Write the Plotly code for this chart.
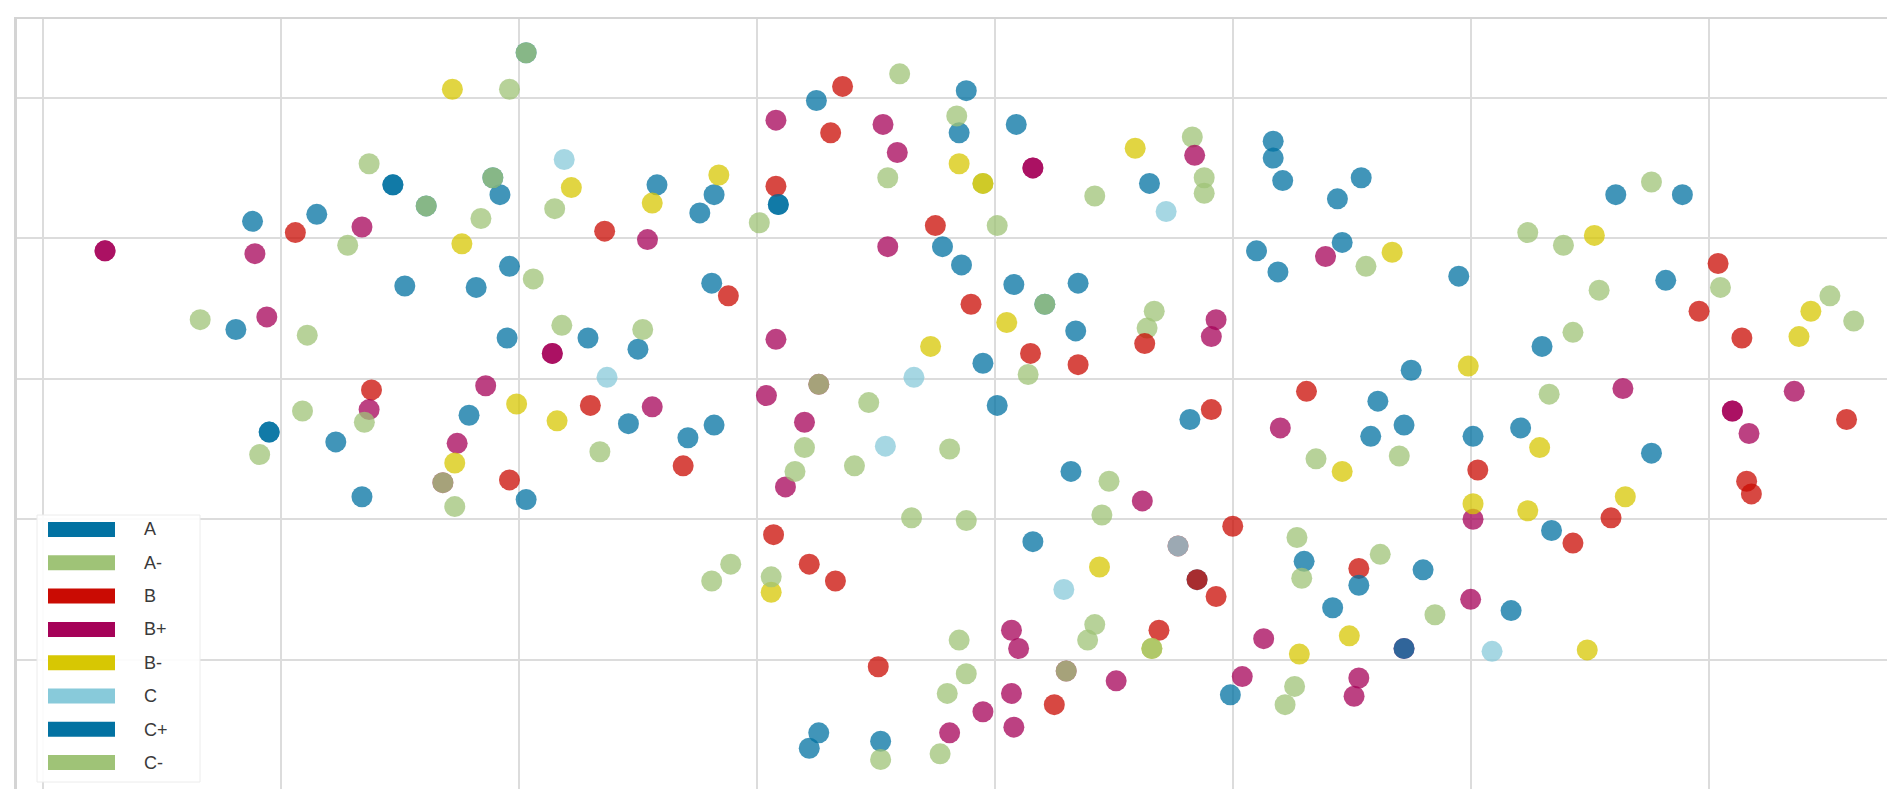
"""t-SNE projection of student records, coloured by grade."""

import plotly.graph_objects as go

# Embedding coordinates per grade.
# A few points sit on top of each other, which gives the darker blends.
A_x = [-10.8, -21.2, -18.5, -10.4, -14.8, -11.8, -21.9, -10.5, -7.1, -5.0, -4.2, -1.8, -2.4, -1.9,
       2.5, 8.8, 8.5, 10.9, 7.8, 8.6, 10.8, 13.5, 13.4, 9.5, 10.1, 16.5, 21.7, 21.7, 22.1, 25.4,
       24.4, 21.0, 21.9, -9.7, -15.3, -11.1, 0.9, 12.1, -20.5, 18.5]
A_y = [13.1, 11.2, 11.7, 8.0, 6.6, 6.5, 3.5, 2.9, 2.9, 2.1, 13.8, 13.1, 11.8, 6.8,
       19.8, 20.5, 17.5, 18.1, 9.4, 8.1, 6.7, 6.8, 3.4, 1.1, -1.9, 13.9, 16.9, 15.7, 14.1, 14.3,
       12.8, 9.1, 7.6, 23.2, 13.8, 14.3, 12.4, 5.3, -3.8, -14.3]

A_minus_x = [-10.4, -16.3, -11.6, -8.5, -17.2, -9.4, -23.4, -18.9, -8.2, -4.8, 0.1, 6.0, 8.4, 5.5,
             10.1, 11.4, 4.7, 18.3, 18.8, 18.8, 14.2, 25.6, 16.7, 16.4, 37.6, 32.4, 33.9, 40.5,
             35.4, 45.1, 46.1, 34.3, -11.1, 12.1, 9.5]
A_minus_y = [20.6, 15.3, 11.4, 12.1, 9.5, 7.1, 4.2, 3.1, 3.8, 3.5, 11.1, 21.7, 18.7, 14.3,
             10.9, 0.3, -1.7, 17.2, 14.3, 13.2, 13.0, 8.0, 4.8, 3.6, 14.0, 10.4, 9.5, 6.5,
             6.3, 5.9, 4.1, 3.3, 14.3, 5.3, 13.9]

B_x = [-19.4, -6.4, 0.8, -1.2, 3.6, 3.1, 7.5, 9.0, 11.5, 13.5, 16.3, 40.4, 39.6, 41.4, -16.2,
       -10.4, -7.0, -3.1, 19.1, 23.1, 30.3, 45.8, 41.6, 41.8, 35.9, 34.3, 0.7, 2.2, 3.3, 5.1,
       19.3, 20.0, 25.3, 16.9, 12.5, 17.7, 18.5]
B_y = [10.4, 10.5, 13.7, 5.9, 20.8, 17.5, 10.9, 5.3, 1.8, 1.0, 2.5, 8.2, 4.8, 2.9, -0.8,
       -7.2, -1.9, -6.2, -2.2, -0.9, -6.5, -2.9, -7.3, -8.2, -9.9, -11.7, -11.1, -13.2, -14.4, -20.5,
       -15.5, -10.5, -13.5, -17.9, -23.2, -11.9, -14.3]

B_plus_x = [-16.6, -21.1, -20.6, -4.6, 0.8, 0.8, 5.3, 5.9, 5.5, 0.4, 2.0, 18.4, 23.9, 19.3, 19.1,
            -16.3, -11.4, -12.6, -4.4, 1.2, 16.2, 22.0, 36.4, 41.7, 43.6, 30.1, 30.0, 10.7, 11.0,
            21.3, 15.1, 10.7, 9.5, 10.8, 20.4, 25.3, 25.1, 8.1, -27.4, -27.4, -8.6, -8.6, 11.6,
            11.6, 41.0, 41.0, 2.6, -13.2, 13.0, 27.2]
B_plus_y = [10.8, 8.9, 4.4, 9.9, 2.8, 18.4, 18.1, 16.1, 9.4, -1.2, -3.1, 15.9, 8.7, 4.2, 3.0,
            -2.2, -0.5, -4.6, -2.0, -7.7, -8.7, -3.5, -0.7, -3.9, -0.9, -10.0, -15.7, -17.9, -19.2,
            -18.5, -21.5, -22.4, -23.7, -24.8, -21.2, -21.3, -22.6, -25.2, 9.1, 9.1, 1.8, 1.8, 15.0,
            15.0, -2.3, -2.3, -0.4, -7.4, -20.8, -19.2]

B_minus_x = [-12.8, -7.8, -12.4, -1.6, -4.4, 8.5, 10.5, 7.3, 15.9, 26.7, 35.2, 44.3, 43.8, 29.9,
             -12.7, -10.1, -8.4, 24.6, 32.9, 30.1, 32.4, 36.5, 34.9, 0.6, 14.4, 22.8, 24.9, 9.5, 16.6]
B_minus_y = [20.6, 13.6, 9.6, 14.5, 12.5, 15.3, 4.0, 2.3, 16.4, 9.0, 10.2, 4.8, 3.0, 0.9,
             -6.0, -1.8, -3.0, -6.6, -4.9, -8.9, -9.4, -8.4, -19.3, -15.2, -13.4, -19.6, -18.3, 13.9, -19.2]

C_x = [-8.1, -6.3, 6.6, 17.2, 5.4, 30.9, 12.9, 17.7]
C_y = [15.6, 0.1, 0.1, 11.9, -4.8, -19.4, -15.0, -11.9]

C_plus_x = [24.6, 29.5, 36.1, 38.9, 38.2, 33.0, 27.5, -17.7, -12.1, -16.6, -9.7, -5.4, -2.9, -1.8,
            13.2, 18.2, 26.1, 25.8, 27.2, 30.1, 32.1, 37.6, 33.4, 31.7, 11.6, 23.0, 25.3, 28.0,
            24.2, 19.9, 2.6, 2.2, 5.2, -15.3, -13.9, 0.9, -20.5, 27.2]
C_plus_y = [9.7, 7.3, 13.1, 13.1, 7.0, 2.3, 0.6, -4.5, -2.6, -8.4, -8.6, -3.2, -4.2, -3.3,
            -6.6, -2.9, -1.6, -4.1, -3.3, -4.1, -3.5, -5.3, -10.8, -16.5, -11.6, -13.0, -14.7, -13.6,
            -16.3, -22.5, -25.2, -26.3, -25.8, 13.8, 12.3, 12.4, -3.8, -19.2]

C_minus_x = [-16.5, -19.1, -20.9, -12.7, -6.6, 2.0, 1.6, 4.1, 8.1, 14.8, 14.5, 6.5, 8.8, 23.5,
             27.0, 33.3, -1.1, -1.9, 0.6, 22.7, 22.9, 26.2, 28.5, 8.5, 14.2, 13.9, 8.8, 8.0,
             22.6, 22.2, 7.7, 5.2, -9.7, -13.9, 2.6, -13.2, 13.0, 16.6]
C_minus_y = [-3.1, -2.3, -5.4, -9.1, -5.2, -4.9, -6.6, -6.2, -5.0, -7.3, -9.7, -9.9, -10.1, -5.7,
             -5.5, -1.1, -13.2, -14.4, -14.1, -11.3, -14.2, -12.5, -16.8, -18.6, -17.5, -18.6, -21.0, -22.4,
             -21.9, -23.2, -26.7, -27.1, 23.2, 12.3, -0.4, -7.4, -20.8, -19.2]

GRADES = ["A", "A-", "B", "B+", "B-", "C", "C+", "C-"]
GRADE_X = [A_x, A_minus_x, B_x, B_plus_x, B_minus_x, C_x, C_plus_x, C_minus_x]
GRADE_Y = [A_y, A_minus_y, B_y, B_plus_y, B_minus_y, C_y, C_plus_y, C_minus_y]

# yellowbrick default palette, cycled over the eight classes
_PALETTE = ["#0272a2", "#9fc377", "#ca0b03", "#a50258", "#d7c703", "#88cada"]
_GRID = "#dcdcdc"

W, H = 1902, 803
MARGIN = dict(l=17, r=15, t=19, b=14)
PLOT_W = W - MARGIN["l"] - MARGIN["r"]
PLOT_H = H - MARGIN["t"] - MARGIN["b"]


def _px_to_paper(px_x=None, px_y=None):
    """Page pixel -> paper fraction (used only for the legend decoration)."""
    if px_x is not None:
        return (px_x - MARGIN["l"]) / PLOT_W
    return (H - MARGIN["b"] - px_y) / PLOT_H


# Legend geometry in page pixels (the matplotlib legend uses wide swatches,
# which plotly's own legend symbols can't draw, so they are laid on as shapes)
LEGEND_BOX = (37, 515, 200, 782)   # left, top, right, bottom
SWATCH_X = (48, 115)
ROW0, ROW_STEP, SWATCH_H = 529.5, 33.3, 15

fig = go.Figure()

for i, (grade, xs, ys) in enumerate(zip(GRADES, GRADE_X, GRADE_Y)):
    color = _PALETTE[i % len(_PALETTE)]
    # points
    fig.add_trace(
        go.Scatter(
            x=xs,
            y=ys,
            mode="markers",
            name=grade,
            legendgroup=grade,
            showlegend=False,
            marker=dict(color=color, size=21, opacity=0.75, line=dict(width=0)),
        )
    )
    # legend entry (text only; the swatch is a shape below)
    fig.add_trace(
        go.Scatter(
            x=[None],
            y=[None],
            mode="lines",
            name=grade,
            legendgroup=grade,
            line=dict(color="rgba(0,0,0,0)", width=2),
        )
    )

# legend frame
fig.add_shape(
    type="rect",
    xref="paper", yref="paper",
    x0=_px_to_paper(px_x=LEGEND_BOX[0]), x1=_px_to_paper(px_x=LEGEND_BOX[2]),
    y0=_px_to_paper(px_y=LEGEND_BOX[3]), y1=_px_to_paper(px_y=LEGEND_BOX[1]),
    fillcolor="rgba(255,255,255,0.9)",
    line=dict(color="#ececec", width=1),
    layer="above",
)
# colour swatches
for i, grade in enumerate(GRADES):
    cy = ROW0 + i * ROW_STEP
    fig.add_shape(
        type="rect",
        xref="paper", yref="paper",
        x0=_px_to_paper(px_x=SWATCH_X[0]), x1=_px_to_paper(px_x=SWATCH_X[1]),
        y0=_px_to_paper(px_y=cy + SWATCH_H / 2), y1=_px_to_paper(px_y=cy - SWATCH_H / 2),
        fillcolor=_PALETTE[i % len(_PALETTE)],
        line=dict(width=0),
        layer="above",
    )

fig.update_layout(
    width=W,
    height=H,
    margin=MARGIN,
    paper_bgcolor="white",
    plot_bgcolor="white",
    font=dict(family="Liberation Sans, Arial, sans-serif", size=18, color="#3a3a3a"),
    showlegend=True,
    legend=dict(
        x=_px_to_paper(px_x=LEGEND_BOX[0]),
        y=_px_to_paper(px_y=LEGEND_BOX[3] - 1),
        xanchor="left",
        yanchor="bottom",
        bgcolor="rgba(0,0,0,0)",
        borderwidth=0,
        itemwidth=97,
        tracegroupgap=7,
        font=dict(size=18, color="#3a3a3a"),
    ),
)

fig.update_xaxes(
    range=[-31.1, 47.5],
    tick0=0,
    dtick=10,
    showticklabels=False,
    ticks="",
    showgrid=True,
    gridcolor=_GRID,
    gridwidth=2,
    zeroline=False,
    showline=True,
    linecolor="#d4d4d4",
    linewidth=2,
    side="top",
)
fig.update_yaxes(
    range=[-29.2, 25.6],
    tick0=0,
    dtick=10,
    showticklabels=False,
    ticks="",
    showgrid=True,
    gridcolor=_GRID,
    gridwidth=2,
    zeroline=False,
    showline=True,
    linecolor="#d4d4d4",
    linewidth=3,
)

fig.write_html(
    "out.html",
    config={"displayModeBar": False},
    post_script="document.body.style.margin='0';",
)
